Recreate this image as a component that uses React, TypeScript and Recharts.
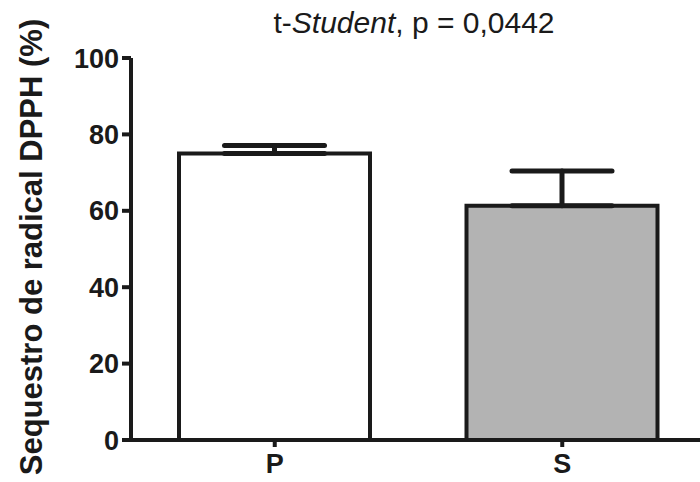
import { Bar, BarChart, Cell, ErrorBar, XAxis, YAxis } from 'recharts';

const groups = ['P', 'S'];
const means = [75, 61.3];
const errors = [2.1, 9.1];
const fills = ['#ffffff', '#b3b3b3'];
const yTicks = [0, 20, 40, 60, 80, 100];

const data = groups.map((g, i) => ({ name: g, value: means[i], err: [0, errors[i]] }));

const ink = '#1a1a1a';
const font = '"Liberation Sans", Arial, sans-serif';

export default function App() {
  return (
    <div
      style={{
        position: 'absolute',
        top: 0,
        left: 0,
        width: 700,
        height: 482,
        overflow: 'hidden',
        background: '#fff',
        fontFamily: font,
        color: ink,
      }}
    >
      <BarChart
        width={720}
        height={482}
        data={data}
        margin={{ top: 58, right: 14, bottom: 0, left: 0 }}
        style={{ fontFamily: font }}
      >
        <XAxis
          dataKey="name"
          height={42}
          stroke={ink}
          strokeWidth={4}
          tickSize={7}
          tickMargin={7}
          tick={{ fill: ink, fontSize: 27, fontWeight: 'bold' }}
        />
        <YAxis
          width={131}
          domain={[0, 100]}
          ticks={yTicks}
          stroke={ink}
          strokeWidth={4}
          tickSize={9}
          tickMargin={3}
          tick={{ fill: ink, fontSize: 27, fontWeight: 'bold' }}
        />
        <Bar dataKey="value" barSize={191} stroke={ink} strokeWidth={4} isAnimationActive={false}>
          {data.map((d, i) => (
            <Cell key={d.name} fill={fills[i]} />
          ))}
          <ErrorBar dataKey="err" direction="y" width={50} stroke={ink} strokeWidth={5} strokeLinecap="round" />
        </Bar>
      </BarChart>
      <div
        style={{
          position: 'absolute',
          top: 8,
          left: 64,
          width: 700,
          textAlign: 'center',
          fontSize: 30,
          lineHeight: 1,
          whiteSpace: 'nowrap',
        }}
      >
        t-<i>Student</i>, p = 0,0442
      </div>
      <div
        style={{
          position: 'absolute',
          left: 31,
          top: 247,
          transform: 'translate(-50%, -50%) rotate(-90deg)',
          fontSize: 31,
          fontWeight: 'bold',
          lineHeight: 1,
          whiteSpace: 'nowrap',
        }}
      >
        Sequestro de radical DPPH (%)
      </div>
    </div>
  );
}
